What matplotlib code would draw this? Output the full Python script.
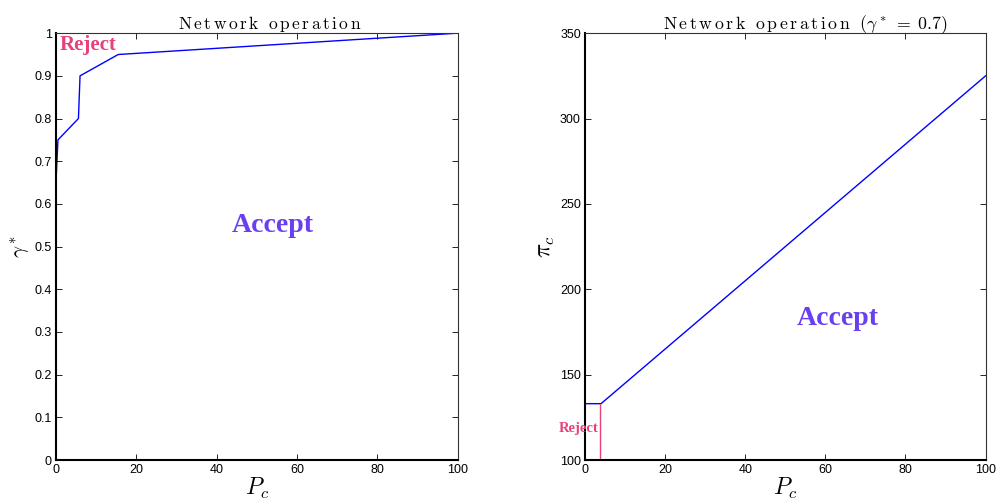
import matplotlib
matplotlib.use("Agg")
import matplotlib.pyplot as plt

plt.rcParams['mathtext.fontset'] = 'cm'
plt.rcParams['font.family'] = ['Liberation Sans', 'DejaVu Sans']

# left panel: acceptance boundary gamma* vs P_c
pc_left = [0, 0, 0.5, 5.6, 5.8, 6.0, 15.5, 100]
gamma_left = [0.05, 0.65, 0.75, 0.80, 0.85, 0.90, 0.95, 1.00]

# right panel: boundary pi_c vs P_c (gamma* = 0.7)
pc_right = [0, 4, 100]
pi_right = [133, 133, 325]
reject_x = [3.7, 3.7]
reject_y = [100, 133]

blue = '#0000ff'
accept_col = '#6a3ff0'
reject_col = '#e6417a'

# letter-spaced Computer Modern titles
title_l = r'$\mathrm{N\,e\,t\,w\,o\,r\,k\ \ o\,p\,e\,r\,a\,t\,i\,o\,n}$'
title_r = r'$\mathrm{N\,e\,t\,w\,o\,r\,k\ \ o\,p\,e\,r\,a\,t\,i\,o\,n\ \ }(\gamma^*\;=\;0.7)$'


def style(ax):
    ax.tick_params(direction='in', top=True, right=True, labelsize=9,
                   length=4, width=0.6, pad=3)
    for s in ['top', 'right']:
        ax.spines[s].set_linewidth(0.8)
        ax.spines[s].set_color('#333333')
    for s in ['bottom', 'left']:
        ax.spines[s].set_linewidth(1.5)


fig = plt.figure(figsize=(9.99, 5.01), dpi=100)
ax1 = fig.add_axes([0.056, 0.0818, 0.402, 0.852])
ax2 = fig.add_axes([0.5856, 0.0818, 0.401, 0.852])

ax1.plot(pc_left, gamma_left, color=blue, lw=1)
ax1.set_xlim(0, 100)
ax1.set_ylim(0, 1)
ax1.set_xticks([0, 20, 40, 60, 80, 100])
ax1.set_yticks([i / 10 for i in range(11)])
ax1.set_yticklabels(['0', '0.1', '0.2', '0.3', '0.4', '0.5', '0.6', '0.7', '0.8', '0.9', '1'])
ax1.set_title(title_l, fontsize=12.5, pad=3, x=0.532)
ax1.set_xlabel(r'$P_c$', fontsize=17, labelpad=0)
ax1.set_ylabel(r'$\gamma^*$', fontsize=15, labelpad=2)
ax1.text(54, 0.55, 'Accept', color=accept_col, fontsize=20, fontweight='bold',
         family='Liberation Serif', ha='center', va='center')
ax1.text(1, 0.973, 'Reject', color=reject_col, fontsize=15, fontweight='bold',
         family='Liberation Serif', ha='left', va='center')
style(ax1)

ax2.plot(pc_right, pi_right, color=blue, lw=1)
ax2.plot(reject_x, reject_y, color=reject_col, lw=1)
ax2.set_xlim(0, 100)
ax2.set_ylim(100, 350)
ax2.set_xticks([0, 20, 40, 60, 80, 100])
ax2.set_yticks([100, 150, 200, 250, 300, 350])
ax2.set_title(title_r, fontsize=12.8, pad=3, x=0.55)
ax2.set_xlabel(r'$P_c$', fontsize=17, labelpad=0)
ax2.set_ylabel(r'$\pi_c$', fontsize=17, labelpad=2)
ax2.text(63, 182.6, 'Accept', color=accept_col, fontsize=20, fontweight='bold',
         family='Liberation Serif', ha='center', va='center')
ax2.text(-1.5, 118.7, 'Reject', color=reject_col, fontsize=10.5, fontweight='bold',
         family='Liberation Serif', ha='center', va='center', clip_on=False)
style(ax2)

fig.savefig('out.png', dpi=100)
